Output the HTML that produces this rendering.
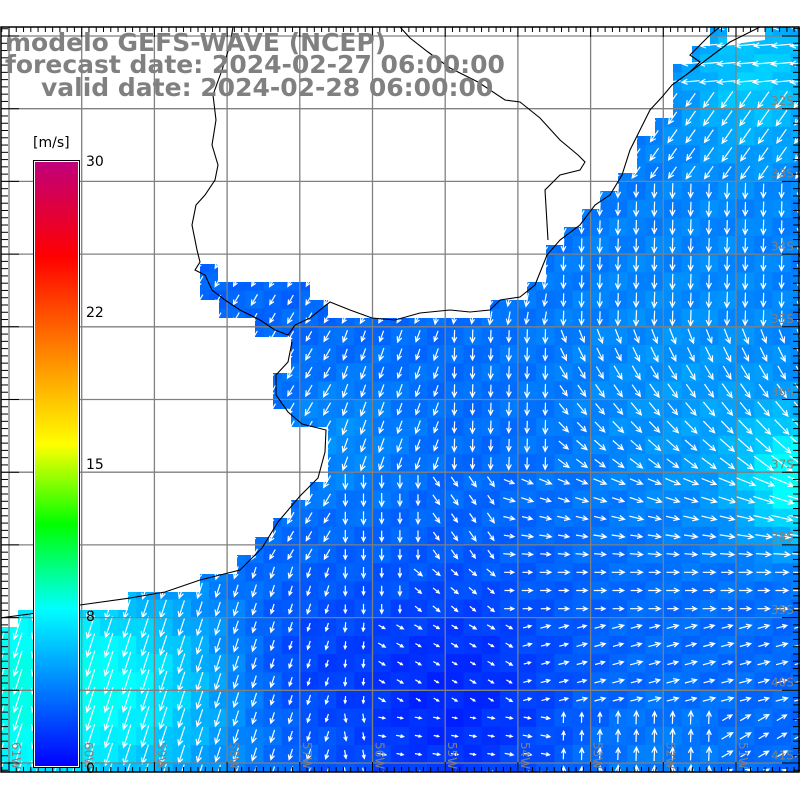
<!DOCTYPE html>
<html><head><meta charset="utf-8"><style>
html,body{margin:0;padding:0;background:#fff;width:800px;height:800px;overflow:hidden}
svg{display:block}
.t{font-family:"DejaVu Sans","Liberation Sans",sans-serif;font-weight:bold;fill:#808080;font-size:25px}
.s{font-family:"DejaVu Sans","Liberation Sans",sans-serif;font-size:14px;fill:#000}
.g{font-family:"DejaVu Sans","Liberation Sans",sans-serif;font-size:12px;fill:#808080}
</style></head><body>
<svg id="m" width="800" height="800" viewBox="0 0 800 800" xmlns="http://www.w3.org/2000/svg">
<defs>
<clipPath id="fr"><rect x="1" y="27" width="799" height="745"/></clipPath>
<linearGradient id="cb" x1="0" y1="1" x2="0" y2="0">
<stop offset="0" stop-color="#0000ff"/>
<stop offset="0.26" stop-color="#00ffff"/>
<stop offset="0.40" stop-color="#00ff00"/>
<stop offset="0.532" stop-color="#ffff00"/>
<stop offset="0.69" stop-color="#ff8000"/>
<stop offset="0.843" stop-color="#ff0000"/>
<stop offset="1" stop-color="#c0007a"/>
</linearGradient>
</defs>
<g id="field" clip-path="url(#fr)"></g>
<g id="arrows" clip-path="url(#fr)" stroke="#fff" stroke-width="1.2" fill="none"></g>
<polygon clip-path="url(#fr)" fill="#fff" points="0,27 0,627 18,627 18,610 128,610 128,592 200,592 200,574 237,574 237,555 255,555 255,537 273,537 273,518 291,518 291,500 310,500 310,482 328,482 328,427 291,427 291,409 273,409 273,373 291,373 291,337 255,337 255,318 219,318 219,300 200,300 200,264 218,264 218,282 310,282 310,300 328,300 328,318 490,318 490,300 527,300 527,282 546,282 546,245 564,245 564,227 582,227 582,209 600,209 600,191 618,191 618,173 637,173 637,136 655,136 655,118 673,118 673,64 692,64 692,46 710,46 710,27"/>
<polygon fill="#fff" points="727,27 765,27 765,40 727,45"/>
<g id="grid" stroke="#808080" stroke-width="1.3" clip-path="url(#fr)"></g>
<polyline fill="none" stroke="#000" stroke-width="1.1" clip-path="url(#fr)" points="233,27 230,45 222,70 213,95 216,120 212,145 218,165 215,180 205,195 196,205 192,225 197,250 200,262 195,270 205,275 212,290 225,300 240,310 260,320 275,330 288,335 295,325 310,318 330,302 350,310 372,318 395,320 420,313 450,310 470,312 490,310 500,300 520,297 535,285 547,255 560,240 580,225 595,205 610,195 622,175 630,150 640,130 650,110 662,97 672,85 690,72 710,57 730,42 760,27"/>
<polyline fill="none" stroke="#000" stroke-width="1.1" clip-path="url(#fr)" points="400,27 410,38 428,52 450,68 478,82 505,100 520,102 540,118 560,140 578,155 585,162 580,170 560,175 545,190 548,240"/>
<polyline fill="none" stroke="#000" stroke-width="1.1" clip-path="url(#fr)" points="690,72 700,62 690,55 700,45 710,35 720,27"/>
<polyline fill="none" stroke="#000" stroke-width="1.1" clip-path="url(#fr)" points="0,618 30,614 80,605 130,598 165,592 200,580 240,570 262,548 278,522 300,496 318,478 325,452 326,430 302,424 288,412 276,395 276,375 288,362 292,342"/>
<g id="ticks" stroke="#000" stroke-width="1"></g>
<rect x="1" y="27" width="798" height="745" fill="none" stroke="#000" stroke-width="1.5"/>
<g id="labs"></g>
<rect x="33" y="160" width="47" height="608" fill="#000"/>
<rect x="34" y="161" width="45" height="606" fill="#fff"/>
<rect x="35" y="162" width="43" height="604" fill="url(#cb)"/>
<text class="s" x="33" y="147">[m/s]</text>
<text class="s" x="86" y="166">30</text>
<text class="s" x="86" y="317">22</text>
<text class="s" x="86" y="469">15</text>
<text class="s" x="86" y="621">8</text>
<text class="s" x="86" y="773">0</text>
<text class="t" x="5" y="51">modelo GEFS-WAVE (NCEP)</text>
<text class="t" x="5" y="73">forecast date: 2024-02-27 06:00:00</text>
<text class="t" x="41" y="96">valid date: 2024-02-28 06:00:00</text>
</svg>
<script>
var NS="http://www.w3.org/2000/svg";
function el(p,n,a){var e=document.createElementNS(NS,n);for(var k in a)e.setAttribute(k,a[k]);p.appendChild(e);return e;}
function G(x,y,cx,cy,r,a){var d=((x-cx)*(x-cx)+(y-cy)*(y-cy))/(r*r);return a*Math.exp(-d);}
function spd(x,y){
 var s=3.2;
 s+=G(x,y,0,690,130,5.5);
 s+=G(x,y,150,690,110,2.8);
 s+=G(x,y,340,440,70,1.2);
 s+=G(x,y,700,300,200,1.0);
 s+=G(x,y,700,440,110,1.0);
 s+=G(x,y,810,480,65,5.0);
 s+=G(x,y,760,70,90,3.0);
 s-=G(x,y,450,700,120,2.0);
 s-=G(x,y,290,660,70,1.0);
 s+=G(x,y,650,770,90,0.8);
 return Math.max(0.8,s);
}
function col(s){var t=Math.min(1,s/8);var g=Math.round(255*t);return "rgb(0,"+g+",255)";}
function col2(s){if(s<=8)return col(s);var t=Math.min(1,(s-8)/3);return "rgb(0,255,"+Math.round(255-60*t)+")";}
function ang(x,y){
 if(y<90&&x>650) return 175;
 if(y<180&&x>600) return 125;
 if(x<330) return y>560?108:120;
 if(y<330) return x<420?120:(x<560?100:92);
 if(y<470){ if(x<450) return 110; if(x<560) return 92; return 70-(y-330)*0.25;}
 if(y<560){ if(x<420) return 90; if(x<500) return 55; return 25-(y-470)*0.25;}
 if(y<620){ if(x<400) return 90; if(x<500) return 40; return 0;}
 if(y<700){ if(x<380) return 95; if(x<520) return 30; return -15;}
 if(x<380) return 80;
 if(x<560) return 10;
 if(x<720) return -88;
 return -30;
}
var f=document.getElementById("field"),ar=document.getElementById("arrows");
var cs=18.18,x0=9-cs*1,y0=36-cs*1;
for(var i=0;i<46;i++)for(var j=0;j<45;j++){
 var x=x0+i*cs,y=y0+j*cs,cx=x+cs/2,cy=y+cs/2;
 var s=spd(cx,cy)+0.3*Math.sin(i*1.7+j*2.3);
 el(f,"rect",{x:x.toFixed(2),y:y.toFixed(2),width:(cs+0.6).toFixed(2),height:(cs+0.6).toFixed(2),fill:col2(s)});
 var a=ang(cx,cy)*Math.PI/180,L=2+s*2.9;if(L>26)L=26;
 var dx=Math.cos(a),dy=Math.sin(a);
 var hx=cx+dx*L/2,hy=cy+dy*L/2,tx=cx-dx*L/2,ty=cy-dy*L/2;
 var h=Math.min(6,L*0.45),b=0.45;
 var b1x=hx-h*Math.cos(a-b),b1y=hy-h*Math.sin(a-b),b2x=hx-h*Math.cos(a+b),b2y=hy-h*Math.sin(a+b);
 el(ar,"path",{d:"M"+tx.toFixed(1)+","+ty.toFixed(1)+"L"+hx.toFixed(1)+","+hy.toFixed(1)+"M"+b1x.toFixed(1)+","+b1y.toFixed(1)+"L"+hx.toFixed(1)+","+hy.toFixed(1)+"L"+b2x.toFixed(1)+","+b2y.toFixed(1)});
}
var gr=document.getElementById("grid"),tk=document.getElementById("ticks"),lb=document.getElementById("labs");
for(var k=0;k<11;k++){var x=9+k*72.7;el(gr,"line",{x1:x,y1:27,x2:x,y2:772});}
for(var k=0;k<11;k++){var y=36+k*72.7;el(gr,"line",{x1:0,y1:y,x2:800,y2:y});}
for(var k=0;k<110;k++){var x=9+(k-1)*7.27;if(x<1||x>799)continue;var big=(k-1)%10==0;var l=big?10:5;
 el(tk,"line",{x1:x,y1:27,x2:x,y2:27+l});el(tk,"line",{x1:x,y1:772,x2:x,y2:772-l});}
for(var k=0;k<110;k++){var y=36+(k-1)*7.27;if(y<27||y>772)continue;var big=(k-1)%10==0;var l=big?18:7;
 el(tk,"line",{x1:1,y1:y,x2:1+l,y2:y});el(tk,"line",{x1:800,y1:y,x2:800-l,y2:y});}
var lons=["61W","60W","59W","58W","57W","56W","55W","54W","53W","52W","51W"];
for(var k=0;k<11;k++){var x=12+k*72.7;var t=el(lb,"text",{"class":"g",x:0,y:0,transform:"translate("+x+",742) rotate(90)"});t.textContent=lons[k];}
var lats=["32S","33S","34S","35S","36S","37S","38S","39S","40S","41S"];
for(var k=0;k<10;k++){var y=105+k*72.7;var t=el(lb,"text",{"class":"g",x:771,y:y});t.textContent=lats[k];}
</script>
</body></html>
